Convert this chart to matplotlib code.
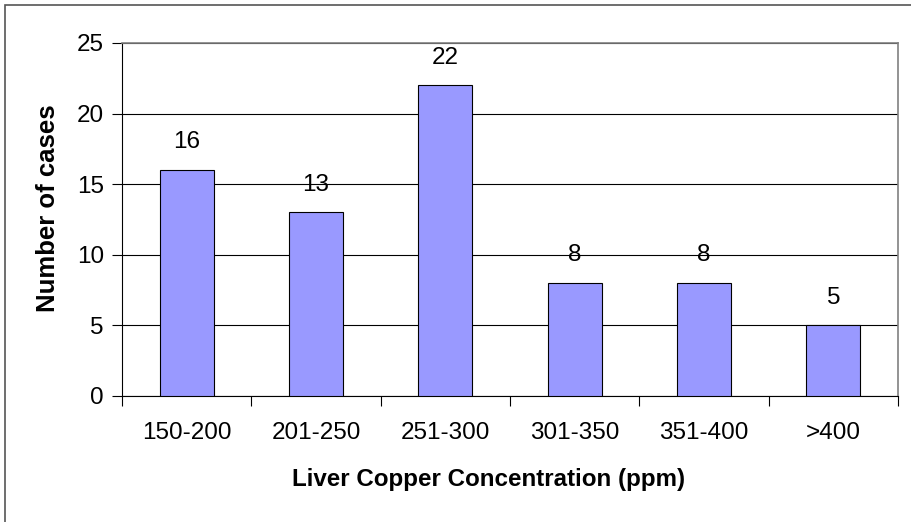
import numpy as np
import matplotlib.pyplot as plt
from matplotlib.patches import Rectangle

plt.rcParams['font.family'] = ['Liberation Sans', 'DejaVu Sans']

ranges = ['150-200', '201-250', '251-300', '301-350', '351-400', '>400']
cases = [16, 13, 22, 8, 8, 5]

W, H = 912, 522
fig = plt.figure(figsize=(W / 100, H / 100), dpi=100)
# outer chart border
fig.patches.append(Rectangle((5.5 / W, -0.1), 2, 1 - 4.5 / H + 0.1,
                             transform=fig.transFigure, fill=False,
                             edgecolor='#555555', linewidth=1.2))

ax = fig.add_axes([122 / W, 1 - 396 / H, (898 - 122) / W, (396 - 43) / H])

x = np.arange(len(ranges))
ax.bar(x, cases, width=0.42, color='#9999ff', edgecolor='black', linewidth=0.8, zorder=3)

for xi, v in zip(x, cases):
    ax.annotate(str(v), (xi, v), xytext=(0, 12), textcoords='offset points',
                ha='center', va='bottom', fontsize=17.5)

ax.set_xlim(-0.5, len(ranges) - 0.5)
ax.set_ylim(0, 25)
ax.set_yticks(range(0, 26, 5))
ax.yaxis.grid(True, color='black', linewidth=0.8, zorder=0)
ax.set_axisbelow(True)

ax.set_xticks(x)
ax.set_xticklabels(ranges, fontsize=17.5)
ax.set_xticks(np.arange(-0.5, len(ranges)), minor=True)
ax.tick_params(axis='x', which='major', length=0, pad=19)
ax.tick_params(axis='x', which='minor', length=7, width=0.8, direction='out', color='black')
ax.tick_params(axis='y', length=7, width=0.8, direction='out', labelsize=17.5, pad=6)

for side in ['top', 'right']:
    ax.spines[side].set_color('#808080')
    ax.spines[side].set_linewidth(1.2)
for side in ['left', 'bottom']:
    ax.spines[side].set_color('black')
    ax.spines[side].set_linewidth(0.8)

ax.set_xlabel('Liver Copper Concentration (ppm)', fontsize=17.4, fontweight='bold', labelpad=17)
ax.xaxis.label.set_x(0.473)
ax.set_ylabel('Number of cases', fontsize=18.5, fontweight='bold', labelpad=12)
ax.yaxis.label.set_y(0.531)

fig.savefig('out.png', dpi=100)
